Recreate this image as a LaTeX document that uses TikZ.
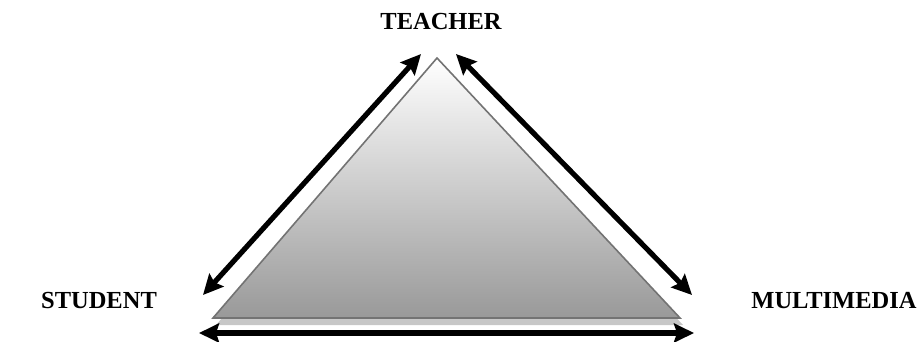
\documentclass[tikz,border=0pt]{standalone}
\usepackage{fontspec}
\setmainfont{Liberation Serif}
\usetikzlibrary{arrows.meta}
\tikzset{
  lbl/.style={font=\bfseries\fontsize{24.5}{28}\selectfont, inner sep=0pt, anchor=base},
  conn/.style={line width=5.2pt, {Stealth[length=20pt,width=19pt,inset=3pt]}-{Stealth[length=20pt,width=19pt,inset=3pt]}, black},
}
\begin{document}
\begin{tikzpicture}[x=1pt,y=-1pt]
\useasboundingbox (0,0) rectangle (917,342);
% corners
\coordinate (A) at (437,58);
\coordinate (B) at (213,318);
\coordinate (C) at (680,318);
% shadow
\fill[black!22] ([shift={(3,7)}]A) -- ([shift={(3,7)}]B) -- ([shift={(3,7)}]C) -- cycle;
% triangle
\shade[top color=white, bottom color=black!40] (A) -- (B) -- (C) -- cycle;
\draw[black!55, line width=1.6pt, line join=miter] (A) -- (B) -- (C) -- cycle;
% labels
\node[lbl] (teacher) at (441,30) {TEACHER};
\node[lbl] (student) at (99,308) {STUDENT};
\node[lbl] (multimedia) at (834,308) {MULTIMEDIA};
% arrow endpoints
\coordinate (l1) at (203,295);
\coordinate (l2) at (421,54);
\coordinate (r1) at (456,54);
\coordinate (r2) at (692,295);
\coordinate (b1) at (199,333);
\coordinate (b2) at (694,333);
\draw[conn] (l1) -- (l2);
\draw[conn] (r1) -- (r2);
\draw[conn] (b1) -- (b2);
\end{tikzpicture}
\end{document}
